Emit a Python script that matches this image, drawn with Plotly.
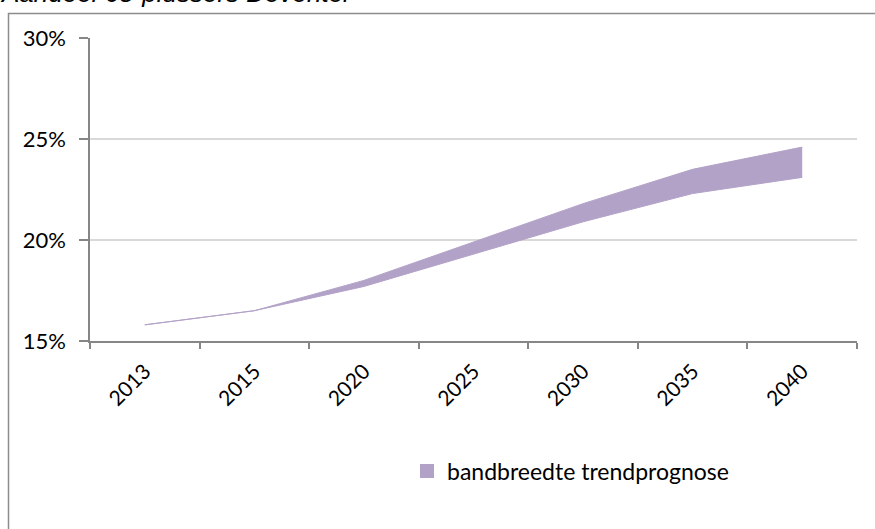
import plotly.graph_objects as go

years = ["2013", "2015", "2020", "2025", "2030", "2035", "2040"]
lower = [15.8, 16.5, 17.7, 19.3, 20.9, 22.3, 23.1]
upper = [15.8, 16.5, 18.0, 19.9, 21.8, 23.5, 24.6]
y_ticks = [15, 20, 25, 30]
y_labels = ["15%", "20%", "25%", "30%"]
title_text = "Aandeel 65-plussers Deventer"
legend_name = "bandbreedte trendprognose"

band_color = "#b3a2c7"
W, H = 875, 529
L, R, T, B = 90, 18, 38, 188
pw, ph = W - L - R, H - T - B

def px_x(p):
    return (p - L) / pw

def px_y(p):
    return (H - B - p) / ph

fig = go.Figure()
fig.add_trace(go.Scatter(x=years, y=lower, mode="lines",
                         line=dict(color=band_color, width=1),
                         showlegend=False, hoverinfo="skip"))
fig.add_trace(go.Scatter(x=years, y=upper, mode="lines", fill="tonexty",
                         fillcolor=band_color,
                         line=dict(color=band_color, width=1),
                         showlegend=False))
fig.add_trace(go.Scatter(x=[None], y=[None], mode="markers", name=legend_name,
                         marker=dict(symbol="square", size=14, color=band_color)))

fig.update_layout(
    width=W, height=H,
    margin=dict(l=L, r=R, t=T, b=B, autoexpand=False),
    paper_bgcolor="white", plot_bgcolor="white",
    font=dict(family="Lato, Open Sans, sans-serif", size=21, color="black"),
    showlegend=True,
    legend=dict(x=px_x(407), y=px_y(471), xanchor="left", yanchor="middle",
                orientation="h", font=dict(size=23), bgcolor="rgba(0,0,0,0)"),
    xaxis=dict(type="category", range=[-0.5, 6.5], tickson="boundaries",
               ticks="outside", ticklen=6, tickcolor="#868686", tickwidth=1.5,
               showline=True, linecolor="#868686", linewidth=1.5,
               showgrid=False, tickangle=-45, tickfont=dict(size=21),
               ticklabelstandoff=8),
    yaxis=dict(range=[15, 30], tickmode="array", tickvals=y_ticks,
               ticktext=y_labels,
               ticks="outside", ticklen=9, tickcolor="#868686", tickwidth=1.5,
               showline=True, linecolor="#868686", linewidth=1.5,
               showgrid=True, gridcolor="#d9d9d9", gridwidth=1.5,
               zeroline=False, tickfont=dict(size=22), ticklabelstandoff=9),
    shapes=[dict(type="rect", xref="paper", yref="paper",
                 x0=px_x(8.5), x1=px_x(900), y0=px_y(560), y1=px_y(13.5),
                 line=dict(color="#8c8c8c", width=1.5), layer="below")],
    annotations=[dict(text="<i>" + title_text + "</i>", xref="paper", yref="paper",
                      x=px_x(-2), y=px_y(10), xanchor="left", yanchor="bottom",
                      showarrow=False,
                      font=dict(family="Liberation Sans, Arial", size=26,
                                color="black"))],
)

fig.write_html("out.html", config={"displayModeBar": False},
               post_script="document.body.style.margin='0';")
